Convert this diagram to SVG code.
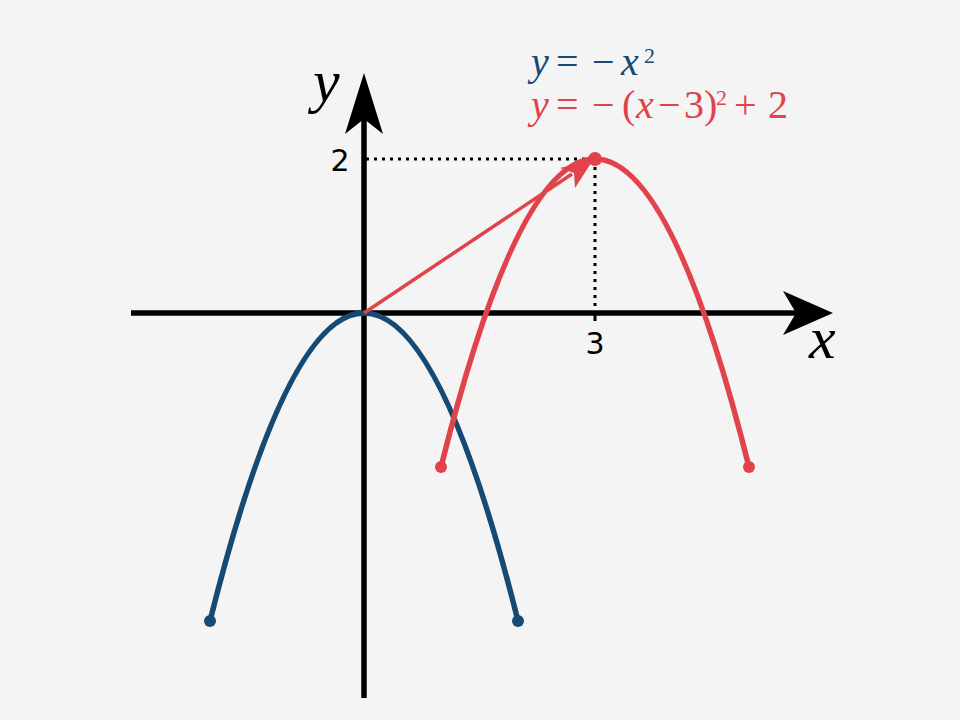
<svg xmlns="http://www.w3.org/2000/svg" width="960" height="720" viewBox="0 0 960 720">
<style>
.axis{stroke:#000;stroke-width:5.5;fill:none}
.dot{stroke:#000;stroke-width:3;stroke-dasharray:3 5;fill:none}
.blue{stroke:#154a75;stroke-width:5.5;fill:none}
.red{stroke:#e2434b;stroke-width:5.5;fill:none}
.num{font-family:"DejaVu Sans",sans-serif;font-size:30px;fill:#000}
.lab{font-family:"Liberation Serif",serif;font-style:italic;font-size:60px;fill:#000}
.eq{font-family:"Liberation Serif",serif;font-size:40px}
.it{font-style:italic}
.sup{font-size:22px}
</style>
<rect width="960" height="720" fill="#f4f4f4"/>
<g id="axes">
<line class="axis" x1="131" y1="313" x2="800" y2="313"/>
<path d="M833,313 L783,291 L796,313 L783,335 Z" fill="#000"/>
<line class="axis" x1="364" y1="698" x2="364" y2="100"/>
<path d="M364,73 L345,134 L364,119 L383,134 Z" fill="#000"/>
<line x1="595" y1="313" x2="595" y2="321" stroke="#000" stroke-width="3"/>
<text class="lab" x="809" y="358">x</text>
<text class="lab" x="313" y="101">y</text>
<text class="num" x="340" y="171" text-anchor="middle">2</text>
<text class="num" x="595" y="354" text-anchor="middle">3</text>
</g>
<g id="connectors">
<line class="dot" x1="366" y1="159" x2="595" y2="159"/>
<line class="dot" x1="595" y1="159" x2="595" y2="311"/>
<path class="blue" d="M210,621 Q364,5 518,621"/>
<path class="red" d="M441,467 Q595,-149 749,467"/>
<line x1="364" y1="313" x2="572" y2="174" stroke="#e2434b" stroke-width="3.5"/>
<path d="M593,160 L560,168 L574,173 L575,188 Z" fill="#e2434b"/>
</g>
<g id="points">
<circle cx="210" cy="621" r="6" fill="#154a75"/>
<circle cx="518" cy="621" r="6" fill="#154a75"/>
<circle cx="441" cy="467" r="6" fill="#e2434b"/>
<circle cx="749" cy="467" r="6" fill="#e2434b"/>
<circle cx="595" cy="159" r="7" fill="#e2434b"/>
</g>
<g id="legend">
<text class="eq" y="75" fill="#154a75"><tspan class="it" x="531">y</tspan><tspan x="556">=</tspan><tspan x="592">−</tspan><tspan class="it" x="621">x</tspan><tspan class="sup" x="644" y="63">2</tspan></text>
<text class="eq" y="118" fill="#e2434b"><tspan class="it" x="531">y</tspan><tspan x="556">=</tspan><tspan x="592">−</tspan><tspan x="622">(</tspan><tspan class="it" x="636">x</tspan><tspan x="658">−</tspan><tspan x="684">3</tspan><tspan x="704">)</tspan><tspan class="sup" x="716" y="105">2</tspan><tspan x="734" y="118">+</tspan><tspan x="768">2</tspan></text>
</g>
</svg>
